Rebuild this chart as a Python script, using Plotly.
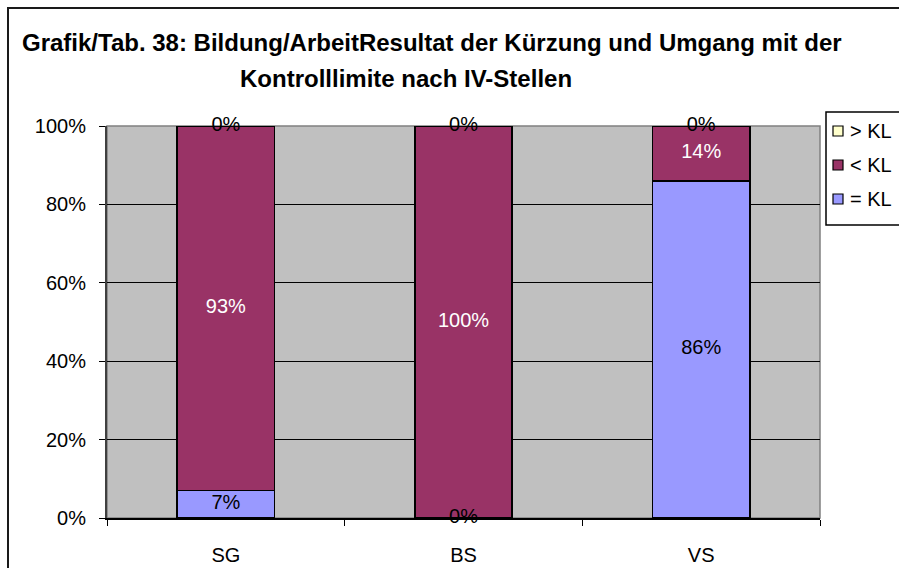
import plotly.graph_objects as go

# Categories (IV-Stellen) and shares per outcome, in percent
categories = ["SG", "BS", "VS"]
series_names = ["= KL", "< KL", "> KL"]
equal_kl = [7, 0, 86]
below_kl = [93, 100, 14]
above_kl = [0, 0, 0]
series_values = [equal_kl, below_kl, above_kl]
series_colors = ["#9999FF", "#993366", "#FFFFCC"]
label_colors = ["#000000", "#FFFFFF", "#000000"]
y_ticks = [0, 20, 40, 60, 80, 100]
y_tick_labels = ["0%", "20%", "40%", "60%", "80%", "100%"]

W, H = 899, 568
M_L, M_R, M_T, M_B = 107, 79, 126, 50
FONT = "Liberation Sans, Arial, sans-serif"
FS = 20

plot_w = W - M_L - M_R
plot_h = H - M_T - M_B


def px_x(px):
    """pixel column -> paper x"""
    return (px - M_L) / plot_w


def px_y(py):
    """pixel row -> paper y"""
    return (H - M_B - py) / plot_h


fig = go.Figure()

# stacked bars
for name, vals, col in zip(series_names, series_values, series_colors):
    fig.add_trace(go.Bar(
        x=categories, y=vals, name=name,
        marker=dict(color=col, line=dict(color="#000000", width=1.5)),
        showlegend=False,
    ))

# value labels centred in each segment (zero segments sit on their base)
base = [0] * len(categories)
for name, vals, tcol in zip(series_names, series_values, label_colors):
    mids = [b + v / 2 for b, v in zip(base, vals)]
    fig.add_trace(go.Scatter(
        x=categories, y=mids, mode="text",
        text=[f"{v}%" for v in vals],
        textfont=dict(family=FONT, size=FS, color=tcol),
        showlegend=False, hoverinfo="skip", cliponaxis=False,
    ))
    base = [b + v for b, v in zip(base, vals)]

shapes = [
    # plot-area border
    dict(type="rect", xref="paper", yref="paper", x0=0, x1=1, y0=0, y1=1,
         line=dict(color="#808080", width=1.5), layer="below"),
    # outer chart frame
    dict(type="rect", xref="paper", yref="paper",
         x0=px_x(8), x1=px_x(W + 20), y0=px_y(H + 20), y1=px_y(8),
         line=dict(color="#1a1a1a", width=2)),
    # legend box
    dict(type="rect", xref="paper", yref="paper",
         x0=px_x(826), x1=px_x(W + 20), y0=px_y(225), y1=px_y(112),
         line=dict(color="#000000", width=1.5), fillcolor="#FFFFFF"),
]

annotations = [
    dict(text="<b>Grafik/Tab. 38: Bildung/ArbeitResultat der Kürzung und Umgang mit der</b>",
         xref="paper", yref="paper", x=px_x(432), y=px_y(42),
         xanchor="center", yanchor="middle", showarrow=False,
         font=dict(family=FONT, size=24, color="#000000")),
    dict(text="<b>Kontrolllimite nach IV-Stellen</b>",
         xref="paper", yref="paper", x=px_x(406), y=px_y(78),
         xanchor="center", yanchor="middle", showarrow=False,
         font=dict(family=FONT, size=24, color="#000000")),
]

# legend entries, top entry is the last stacked series
legend_rows = [131, 165, 199]
for row, name, col in zip(legend_rows, series_names[::-1], series_colors[::-1]):
    shapes.append(dict(type="rect", xref="paper", yref="paper",
                       x0=px_x(833), x1=px_x(843), y0=px_y(row + 5), y1=px_y(row - 5),
                       line=dict(color="#000000", width=1.2), fillcolor=col))
    annotations.append(dict(text=name, xref="paper", yref="paper",
                            x=px_x(848), y=px_y(row), xanchor="left", yanchor="middle",
                            showarrow=False, font=dict(family=FONT, size=FS, color="#000000")))

fig.update_layout(
    width=W, height=H,
    margin=dict(l=M_L, r=M_R, t=M_T, b=M_B, pad=0, autoexpand=False),
    barmode="stack", bargap=0.59,
    paper_bgcolor="#FFFFFF", plot_bgcolor="#C0C0C0",
    font=dict(family=FONT, size=FS, color="#000000"),
    shapes=shapes, annotations=annotations,
    showlegend=False,
    xaxis=dict(
        showgrid=False, showline=True, linecolor="#000000", linewidth=1.5,
        ticks="outside", tickson="boundaries", ticklen=6, tickcolor="#000000",
        ticklabelstandoff=18, tickfont=dict(family=FONT, size=FS),
    ),
    yaxis=dict(
        range=[0, 100], tickvals=y_ticks, ticktext=y_tick_labels,
        showgrid=True, gridcolor="#000000", gridwidth=1,
        showline=True, linecolor="#404040", linewidth=2,
        ticks="outside", ticklen=6, tickcolor="#000000",
        ticklabelstandoff=9, tickfont=dict(family=FONT, size=FS),
        zeroline=False,
    ),
)

fig.write_html("out.html")
